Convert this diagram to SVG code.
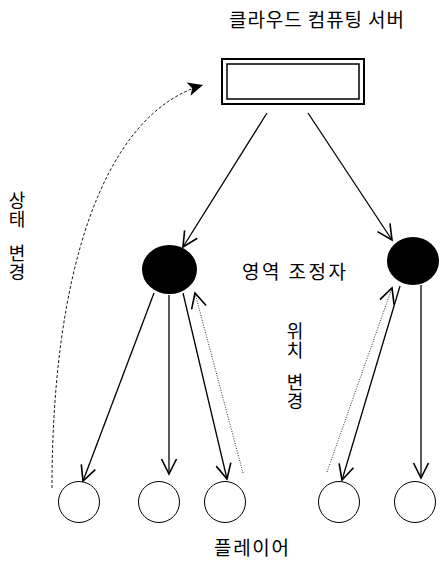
<svg xmlns="http://www.w3.org/2000/svg" width="441" height="580" viewBox="0 0 441 580">
<style>
text{font-family:"Noto Sans CJK KR","Noto Sans",sans-serif;font-size:19px;fill:#000}
.v{writing-mode:vertical-rl;font-size:18px;letter-spacing:1px}
.c{stroke:#000;stroke-width:1.3;fill:none}
.dot{stroke:#333;stroke-width:1;stroke-dasharray:1 1.5;fill:none}
.dash{stroke:#000;stroke-width:0.9;stroke-dasharray:3 2;fill:none}
.pl{fill:#fff;stroke:#000;stroke-width:1}
</style>
<defs>
<marker id="a" markerUnits="userSpaceOnUse" markerWidth="20" markerHeight="20" viewBox="-13 -8 15 16" refX="0" refY="0" orient="auto">
<path d="M-12,-6 L0,0 L-12,6" fill="none" stroke="#000" stroke-width="1.3"/>
</marker>
<marker id="f" markerUnits="userSpaceOnUse" markerWidth="20" markerHeight="20" viewBox="-13 -8 15 16" refX="0" refY="0" orient="auto">
<path d="M-12,-5.5 L0,0 L-12,5.5 L-9,0 Z" fill="#000"/>
</marker>
</defs>
<rect width="441" height="580" fill="#fff"/>
<text x="229" y="27" textLength="175" lengthAdjust="spacing">클라우드 컴퓨팅 서버</text>
<g id="server">
<rect x="222" y="59" width="142" height="45" fill="#fff" stroke="#000" stroke-width="2"/>
<rect x="227" y="64" width="132" height="35" fill="none" stroke="#000" stroke-width="1.5"/>
</g>
<g id="coordinator1"><ellipse cx="169.5" cy="269.5" rx="27.5" ry="24.5" fill="#000"/></g>
<g id="coordinator2"><ellipse cx="413" cy="261" rx="26" ry="24" fill="#000"/></g>
<text x="242" y="279" textLength="104" lengthAdjust="spacing">영역 조정자</text>
<g id="player1"><circle cx="79" cy="502" r="20.5" class="pl"/></g>
<g id="player2"><circle cx="159" cy="502" r="20.5" class="pl"/></g>
<g id="player3"><circle cx="225" cy="502" r="20.5" class="pl"/></g>
<g id="player4"><circle cx="339" cy="502" r="20.5" class="pl"/></g>
<g id="player5"><circle cx="415" cy="502" r="20.5" class="pl"/></g>
<text x="214" y="555" textLength="75" lengthAdjust="spacing">플레이어</text>
<g id="labels">
<text class="v" x="17" y="191">상태</text>
<text class="v" x="17" y="244">변경</text>
<text class="v" x="295" y="322">위치</text>
<text class="v" x="295" y="373">변경</text>
</g>
<g id="connectors">
<path class="c" d="M267,113 L183,247" marker-end="url(#a)"/>
<path class="c" d="M308,113 L392,240" marker-end="url(#a)"/>
<path class="c" d="M154,293 L83,481" marker-end="url(#a)"/>
<path class="c" d="M169,295 L169,474" marker-end="url(#a)"/>
<path class="c" d="M183,293 L227,479" marker-end="url(#a)"/>
<path class="dot" d="M243,473 L195,293" marker-end="url(#a)"/>
<path class="c" d="M400,286 L342,480" marker-end="url(#a)"/>
<path class="dot" d="M327,472 L392,288" marker-end="url(#a)"/>
<path class="c" d="M421,285 L421,478" marker-end="url(#a)"/>
<path class="dash" d="M52,488 C52,280 100,115 203,85" marker-end="url(#f)"/>
</g>
</svg>
